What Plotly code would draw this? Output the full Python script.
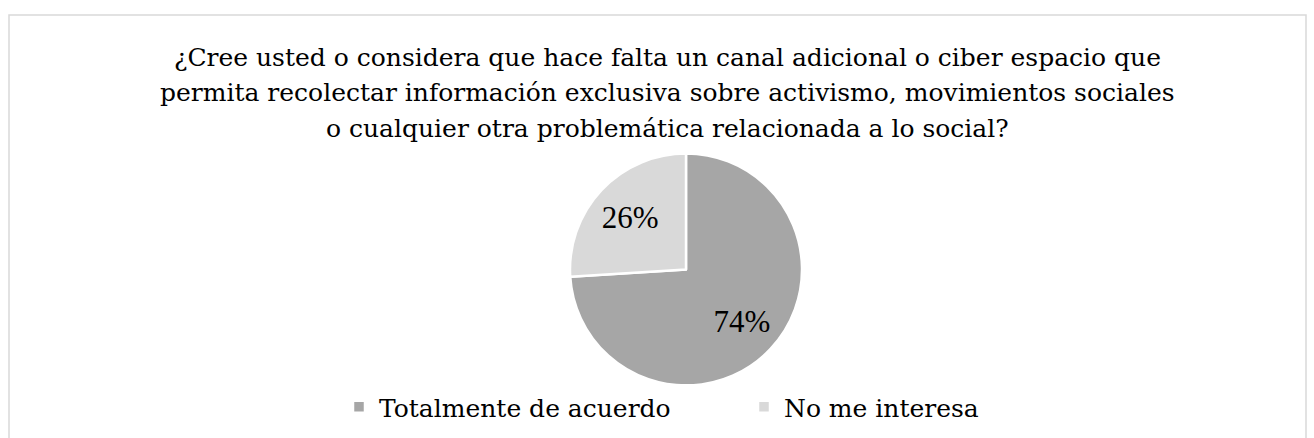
import plotly.graph_objects as go

categories = ["Totalmente de acuerdo", "No me interesa"]
values = [74, 26]
colors = ["#a6a6a6", "#d9d9d9"]
title_lines = [
    "¿Cree usted o considera que hace falta un canal adicional o ciber espacio que",
    "permita recolectar información exclusiva sobre activismo, movimientos sociales",
    "o cualquier otra problemática relacionada a lo social?",
]

W, H = 1314, 438
dom = dict(x=[570 / W, 802 / W], y=[1 - 386 / H, 1 - 153 / H])
fig = go.Figure()
fig.add_trace(go.Pie(
    labels=categories, values=values, sort=False, direction="clockwise", rotation=0,
    marker=dict(colors=colors, line=dict(color="white", width=2.5)),
    textinfo="none", domain=dom, hoverinfo="label+percent",
))
# transparent ring on top carrying the percentage labels (places them further out)
fig.add_trace(go.Pie(
    labels=categories, values=values, sort=False, direction="clockwise", rotation=0,
    hole=0.32, showlegend=False,
    marker=dict(colors=["rgba(0,0,0,0)"] * len(values), line=dict(width=0)),
    textinfo="percent", texttemplate="%{percent:.0%}", textposition="inside",
    insidetextorientation="horizontal",
    textfont=dict(family="Liberation Serif, serif", size=31, color="#000000"),
    domain=dom, hoverinfo="skip",
))
annotations = []
for i, line in enumerate(title_lines):
    annotations.append(dict(
        text=line, xref="paper", yref="paper", x=667 / W, xanchor="center",
        y=1 - (58 + 35 * i) / H, yanchor="middle", showarrow=False,
        font=dict(family="DejaVu Serif, serif", size=25, color="#000000"),
    ))
fig.update_layout(
    width=W, height=H, margin=dict(l=0, r=0, t=0, b=0),
    paper_bgcolor="white",
    annotations=annotations,
    legend=dict(orientation="h", x=339 / W, xanchor="left", y=1 - 407 / H, yanchor="middle",
                font=dict(family="DejaVu Serif, serif", size=25, color="#000000"),
                entrywidth=360, entrywidthmode="pixels", traceorder="normal"),
    shapes=[dict(type="rect", xref="paper", yref="paper", x0=9 / W, x1=1306 / W,
                 y0=-0.2, y1=1 - 15 / H, line=dict(color="#d9d9d9", width=1.5))],
)
fig.write_html("out.html", config={"displayModeBar": False},
               post_script="document.body.style.margin='0';")
